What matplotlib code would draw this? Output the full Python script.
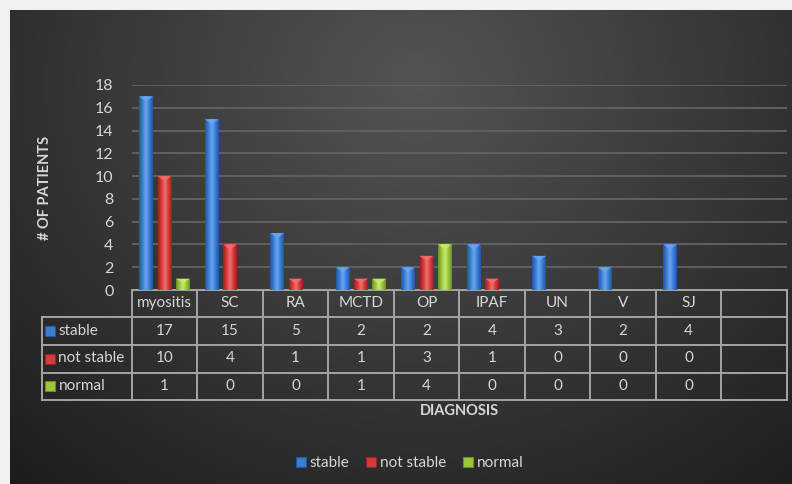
import numpy as np
import matplotlib
matplotlib.use("Agg")
import matplotlib.pyplot as plt
from matplotlib.patches import Polygon
from matplotlib.colors import LinearSegmentedColormap
import matplotlib.transforms as mtransforms
from matplotlib.lines import Line2D

plt.rcParams['font.family'] = ['Lato', 'DejaVu Sans']

categories = ["myositis", "SC", "RA", "MCTD", "OP", "IPAF", "UN", "V", "SJ", ""]
series_names = ["stable", "not stable", "normal"]
stable = [17, 15, 5, 2, 2, 4, 3, 2, 4]
not_stable = [10, 4, 1, 1, 3, 1, 0, 0, 0]
normal = [1, 0, 0, 1, 4, 0, 0, 0, 0]
yticks = [0, 2, 4, 6, 8, 10, 12, 14, 16, 18]

series = [stable, not_stable, normal]
base_colors = ["#3b7dd6", "#d73a3a", "#9cc63d"]
dark_colors = ["#2456a3", "#9e2020", "#6c9123"]
light_colors = ["#6aa6f0", "#f07070", "#c8e870"]
txt = "#d6d6d6"
W, H = 792, 484

fig = plt.figure(figsize=(W / 100, H / 100), dpi=100)
fig.patch.set_facecolor("#eff0f3")

# background gradient panel
bg = fig.add_axes([0, 0, 1, 1], zorder=-10)
bg.set_axis_off()
bg.set_xlim(0, 1)
bg.set_ylim(0, 1)
nx, ny = 400, 250
xx, yy = np.meshgrid(np.linspace(0, 1, nx), np.linspace(0, 1, ny))
r = np.sqrt(((xx - 0.52) / 0.75) ** 2 + ((yy - 0.15) / 1.1) ** 2)
v = np.clip(0.33 - 0.21 * r, 0.11, 0.4)
img = np.dstack([v, v, v])
bg.imshow(img, extent=[10 / W, 1, 0, 1 - 10 / H], origin="upper", aspect="auto",
          interpolation="bilinear")

# main axes
left_px, right_px, top_px, bot_px = 131.7, 786.7, 85, 290
ax = fig.add_axes([left_px / W, 1 - bot_px / H, (right_px - left_px) / W, (bot_px - top_px) / H])
ax.set_facecolor("none")
n = len(categories)
ax.set_xlim(-0.5, n - 0.5)
ax.set_ylim(0, 18)
ax.set_yticks(yticks)
ax.set_yticklabels([str(t) for t in yticks], color=txt, fontsize=11.5)
ax.tick_params(axis="y", length=0, pad=13)
ax.set_xticks([])
for s in ax.spines.values():
    s.set_visible(False)
ax.grid(axis="y", color="#606060", lw=1.4)
ax.set_axisbelow(True)

bw = 0.21
offs = [-0.28, 0.0, 0.28]
px_per_unit_y = (bot_px - top_px) / 18.0
bevel = 5.0 / px_per_unit_y
grad = np.linspace(0, 1, 50)
for si, vals in enumerate(series):
    xs = np.arange(len(vals)) + offs[si]
    bars = ax.bar(xs, vals, width=bw, color=base_colors[si], zorder=3, lw=0)
    cmap = LinearSegmentedColormap.from_list("g", [dark_colors[si], base_colors[si], light_colors[si],
                                                   base_colors[si], dark_colors[si]])
    for b in bars:
        h = b.get_height()
        if h <= 0:
            continue
        x0 = b.get_x(); w = b.get_width()
        im = ax.imshow(grad[None, :], extent=[x0, x0 + w, 0, h], cmap=cmap, aspect="auto",
                       zorder=4, interpolation="bilinear")
        im.set_clip_path(b)
        bv = min(bevel, h * 0.45)
        tri = Polygon([[x0, h], [x0 + w, h], [x0 + w * 0.5, h - bv]], closed=True,
                      facecolor=light_colors[si], edgecolor="none", alpha=0.85, zorder=5)
        ax.add_patch(tri)
ax.set_xlim(-0.5, n - 0.5)
ax.set_ylim(0, 18)

# data table
tr = mtransforms.blended_transform_factory(ax.transData, fig.transFigure)
def fy(p):
    return 1 - p / H
row_edges = [290, 316.7, 344.5, 372.5, 400]
line_c = "#a4a4a4"
lw = 1.4
tab_left_fig = 41.7 / W
for i, pe in enumerate(row_edges):
    if i == 0:
        ax.plot([-0.5, n - 0.5], [fy(pe), fy(pe)], transform=tr, color=line_c, lw=lw, clip_on=False)
    else:
        fig.add_artist(Line2D([tab_left_fig, right_px / W], [fy(pe), fy(pe)], color=line_c, lw=lw))
for k in range(n + 1):
    ax.plot([k - 0.5, k - 0.5], [fy(row_edges[0]), fy(row_edges[-1])], transform=tr,
            color=line_c, lw=lw, clip_on=False)
fig.add_artist(Line2D([tab_left_fig, tab_left_fig], [fy(row_edges[1]), fy(row_edges[-1])],
                      color=line_c, lw=lw))
for k, c in enumerate(categories):
    ax.text(k, fy((row_edges[0] + row_edges[1]) / 2), c, transform=tr, ha="center", va="center",
            color=txt, fontsize=11)
for si, vals in enumerate(series):
    yc = fy((row_edges[si + 1] + row_edges[si + 2]) / 2)
    fig.add_artist(Line2D([50.5 / W], [yc], marker="s", markersize=6.5, color=base_colors[si],
                          markeredgecolor=dark_colors[si], markeredgewidth=0.8, linestyle="none"))
    fig.text(58.5 / W, yc, series_names[si], ha="left", va="center", color=txt, fontsize=11)
    for k, val in enumerate(vals):
        ax.text(k, yc, str(val), transform=tr, ha="center", va="center", color=txt, fontsize=11)

fig.text(45 / W, 1 - 188 / H, "# OF PATIENTS", rotation=90, ha="center", va="center",
         color=txt, fontsize=10.5, fontweight="bold")
fig.text(459 / W, 1 - 411 / H, "DIAGNOSIS", ha="center", va="center", color=txt,
         fontsize=10.5, fontweight="bold")

handles = [Line2D([], [], marker="s", markersize=6.5, color=base_colors[i],
                  markeredgecolor=dark_colors[i], markeredgewidth=0.8, linestyle="none")
           for i in range(3)]
leg = fig.legend(handles, series_names, loc="center", bbox_to_anchor=(410 / W, 1 - 463 / H),
                 ncol=3, frameon=False, handlelength=0.6, handletextpad=0.3, columnspacing=1.1,
                 fontsize=11)
for t in leg.get_texts():
    t.set_color(txt)

fig.savefig("out.png", dpi=100, facecolor=fig.get_facecolor())
